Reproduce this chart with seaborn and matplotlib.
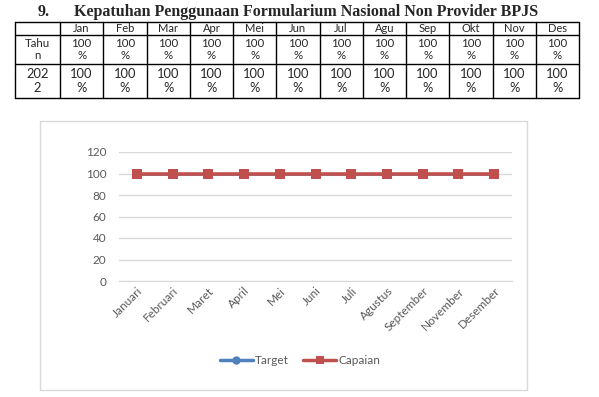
import matplotlib
matplotlib.use("Agg")
import matplotlib.pyplot as plt
import numpy as np
import pandas as pd
import seaborn as sns
from matplotlib.lines import Line2D
from matplotlib.patches import Rectangle

# data
bulan_tabel = ["Jan", "Feb", "Mar", "Apr", "Mei", "Jun", "Jul", "Agu", "Sep", "Okt", "Nov", "Des"]
nilai_tabel = ["100\n%"] * 12
bulan = ["Januari", "Februari", "Maret", "April", "Mei", "Juni", "Juli",
         "Agustus", "September", "November", "Desember"]
target = [100, 100, 100, 100, 100, 100, 100, 100, 100, 100, 100]
capaian = [100, 100, 100, 100, 100, 100, 100, 100, 100, 100, 100]

df = pd.DataFrame({
    "bulan": bulan * 2,
    "nilai": target + capaian,
    "seri": ["Target"] * len(bulan) + ["Capaian"] * len(bulan),
})

sns.set_style("white")
W, H = 599, 397
fig = plt.figure(figsize=(W / 100, H / 100), dpi=100)

def fx(x):
    return x / W

def fy(y):
    return 1 - y / H

# judul
fig.text(fx(38), fy(12), "9.", fontfamily="Liberation Serif", fontweight="bold",
         fontsize=11.5, va="center", ha="left")
fig.text(fx(74), fy(12), "Kepatuhan Penggunaan Formularium Nasional Non Provider BPJS",
         fontfamily="Liberation Serif", fontweight="bold", fontsize=11.5, va="center", ha="left")

# tabel
x_left, x_first, x_right = 15, 60, 579
rows = [22, 34.5, 64, 98]
col_w = (x_right - x_first) / 12
xs = [x_left, x_first] + [x_first + col_w * (i + 1) for i in range(12)]
for y in rows:
    fig.add_artist(Line2D([fx(x_left), fx(x_right)], [fy(y), fy(y)], color="black", lw=1))
for x in xs:
    fig.add_artist(Line2D([fx(x), fx(x)], [fy(rows[0]), fy(rows[-1])], color="black", lw=1))

hfont = dict(fontfamily="Lato", fontsize=8, ha="center", va="center")
tfont = dict(fontfamily="Lato", fontsize=8.3, ha="center", va="center", linespacing=1.1)
bfont = dict(fontfamily="Lato", fontsize=9.3, ha="center", va="center", linespacing=1.1)
for i, b in enumerate(bulan_tabel):
    cx = x_first + col_w * (i + 0.5)
    fig.text(fx(cx), fy((rows[0] + rows[1]) / 2), b, **hfont)
    fig.text(fx(cx), fy((rows[1] + rows[2]) / 2), nilai_tabel[i], **tfont)
    fig.text(fx(cx), fy((rows[2] + rows[3]) / 2), nilai_tabel[i], **bfont)
fig.text(fx((x_left + x_first) / 2), fy((rows[1] + rows[2]) / 2), "Tahu\nn", **tfont)
fig.text(fx((x_left + x_first) / 2), fy((rows[2] + rows[3]) / 2), "202\n2", **bfont)

# kotak grafik
fig.add_artist(Rectangle((fx(40), fy(390)), fx(527) - fx(40), fy(121) - fy(390),
                         fill=False, edgecolor="#D9D9D9", lw=1))

ax = fig.add_axes([fx(119), fy(281), fx(512) - fx(119), fy(152) - fy(281)])
sns.lineplot(data=df, x="bulan", y="nilai", hue="seri", style="seri",
             hue_order=["Target", "Capaian"],
             palette={"Target": "#4F81BD", "Capaian": "#C0504D"},
             markers={"Target": "o", "Capaian": "s"}, dashes=False,
             markersize=5, linewidth=1.8, markeredgewidth=0, ax=ax, legend=False)
ax.lines[1].set_linewidth(2.6)
ax.lines[1].set_markersize(7.5)

ax.set_xlim(-0.5, len(bulan) - 0.5)
ax.set_ylim(0, 120)
ax.set_yticks(np.arange(0, 121, 20))
ax.yaxis.grid(True, color="#D9D9D9", lw=1)
ax.set_axisbelow(True)
for s in ax.spines.values():
    s.set_visible(False)
ax.spines["bottom"].set_visible(True)
ax.spines["bottom"].set_color("#D9D9D9")
ax.set_xlabel("")
ax.set_ylabel("")
ax.tick_params(axis="both", length=0, colors="#595959", labelsize=8.5)
ax.tick_params(axis="y", pad=9)
ax.tick_params(axis="x", pad=3)
ax.set_xticks(range(len(bulan)))
ax.set_xticklabels(bulan, rotation=45, ha="right", rotation_mode="anchor")
for lab in ax.get_xticklabels() + ax.get_yticklabels():
    lab.set_fontfamily("Lato")

handles = [
    Line2D([], [], color="#4F81BD", lw=2.5, marker="o", markersize=6, markeredgewidth=0),
    Line2D([], [], color="#C0504D", lw=2.5, marker="s", markersize=6, markeredgewidth=0),
]
fig.legend(handles, ["Target", "Capaian"], loc="center", bbox_to_anchor=(fx(300), fy(361)),
           ncol=2, frameon=False, handlelength=2.8, columnspacing=1.2, handletextpad=0.2,
           prop={"family": "Lato", "size": 8.5}, labelcolor="#595959")

fig.savefig("out.png", dpi=100, facecolor="white")
